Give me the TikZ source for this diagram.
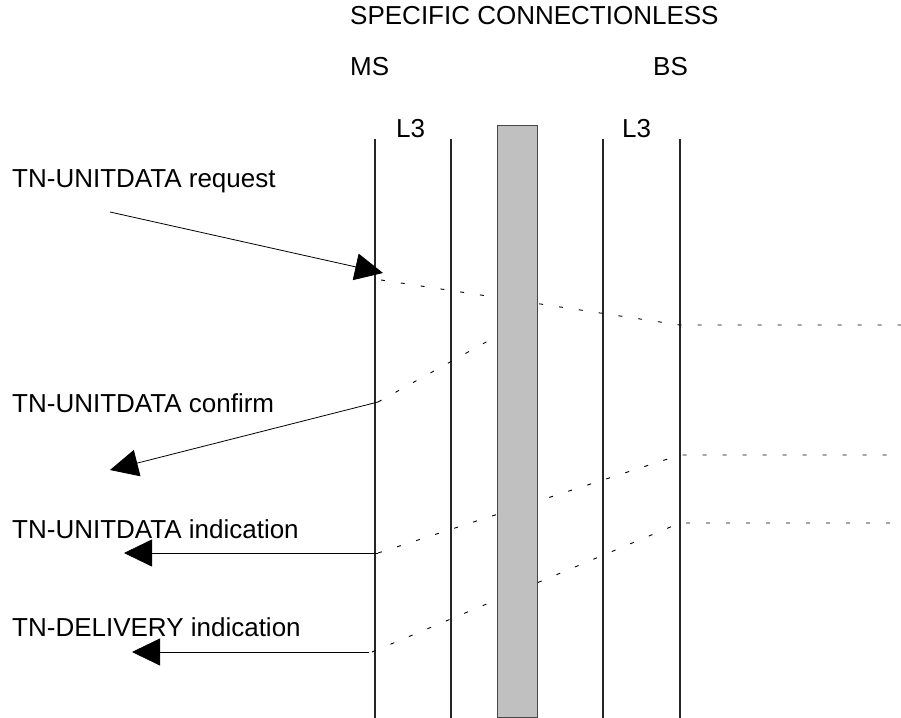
\documentclass[tikz,border=0pt]{standalone}
\usepackage{fontspec}
\setmainfont{Liberation Sans}
\usetikzlibrary{arrows.meta}
\definecolor{barfill}{RGB}{192,192,192}
\definecolor{bardraw}{RGB}{70,70,70}
\begin{document}
\begin{tikzpicture}[x=1bp,y=-1bp,
  lbl/.style={inner sep=0pt, anchor=base west, font=\fontsize{26bp}{30bp}\selectfont},
  life/.style={line width=1.1bp, draw=black!85},
  sig/.style={line width=0.8bp, -{Triangle[length=28bp,width=27bp]}},
  trace/.style={line width=0.9bp, dash pattern=on 4bp off 16bp}]
\useasboundingbox (0,0) rectangle (901,718);

% texts
\node[lbl] (title) at (350,25) {SPECIFIC CONNECTIONLESS};
\node[lbl] (ms) at (350,76) {MS};
\node[lbl] (bs) at (653,76) {BS};
\node[lbl] (l3a) at (396,138) {L3};
\node[lbl] (l3b) at (622,138) {L3};
\node[lbl] (req) at (12,187) {TN-UNITDATA request};
\node[lbl] (conf) at (12,412) {TN-UNITDATA confirm};
\node[lbl] (ind) at (12,538) {TN-UNITDATA indication};
\node[lbl] (del) at (12,636) {TN-DELIVERY indication};

% lifelines
\coordinate (la1) at (375,139); \coordinate (la2) at (375,718);
\coordinate (lb1) at (451,139); \coordinate (lb2) at (451,718);
\coordinate (lc1) at (603,139); \coordinate (lc2) at (603,718);
\coordinate (ld1) at (680,139); \coordinate (ld2) at (680,718);
\draw[life] (la1) -- (la2);
\draw[life] (lb1) -- (lb2);
\draw[life] (lc1) -- (lc2);
\draw[life] (ld1) -- (ld2);

% dotted traces
\coordinate (t1s) at (381,280); \coordinate (t1m) at (680,325); \coordinate (t1e) at (901,325);
\draw[trace] (t1s) -- (t1m) -- (t1e);
\coordinate (t2s) at (378,402); \coordinate (t2e) at (497,336);
\draw[trace] (t2s) -- (t2e);
\coordinate (t3s) at (378,553); \coordinate (t3m) at (680,455); \coordinate (t3e) at (901,455);
\draw[trace] (t3s) -- (t3m) -- (t3e);
\coordinate (t4s) at (372,652); \coordinate (t4m) at (680,523); \coordinate (t4e) at (901,523);
\draw[trace] (t4s) -- (t4m) -- (t4e);

% grey bar
\node[draw=bardraw, fill=barfill, line width=1bp, inner sep=0pt,
      minimum width=40bp, minimum height=591bp] (bar) at (517,421.5) {};

% primitives
\coordinate (r1) at (110,212); \coordinate (r2) at (383,273);
\draw[sig] (r1) -- (r2);
\coordinate (c1) at (378,402); \coordinate (c2) at (110,470);
\draw[sig] (c1) -- (c2);
\coordinate (i1) at (378,553); \coordinate (i2) at (124,553);
\draw[sig] (i1) -- (i2);
\coordinate (d1) at (369,652); \coordinate (d2) at (132,652);
\draw[sig] (d1) -- (d2);
\end{tikzpicture}
\end{document}
